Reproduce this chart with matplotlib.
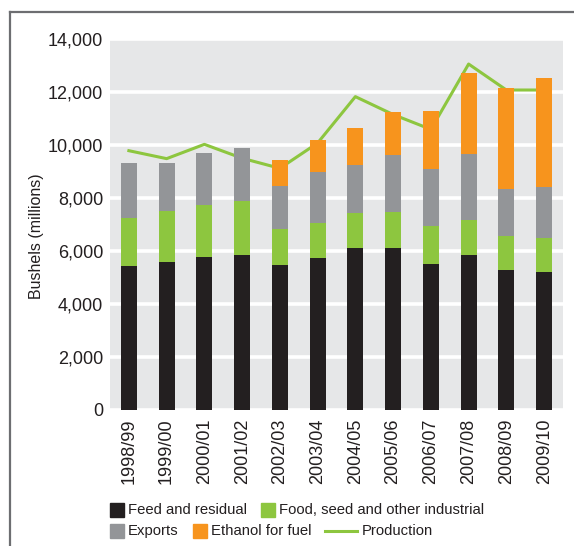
import numpy as np
import matplotlib
matplotlib.use("Agg")
import matplotlib.pyplot as plt
from matplotlib.patches import Rectangle
from matplotlib.lines import Line2D

plt.rcParams['font.family'] = ['Liberation Sans', 'DejaVu Sans']

# corn use by season, million bushels
seasons = ['1998/99', '1999/00', '2000/01', '2001/02', '2002/03', '2003/04',
           '2004/05', '2005/06', '2006/07', '2007/08', '2008/09', '2009/10']
feed = [5430, 5585, 5775, 5850, 5470, 5735, 6115, 6115, 5510, 5850, 5285, 5210]
food = [1810, 1925, 1960, 2035, 1360, 1320, 1320, 1360, 1435, 1320, 1280, 1280]
exports = [2080, 1810, 1960, 2000, 1625, 1925, 1810, 2150, 2150, 2490, 1775, 1925]
ethanol = [0, 0, 0, 0, 980, 1210, 1395, 1620, 2190, 3055, 3810, 4110]
production = [9785, 9485, 10025, 9500, 9120, 10075, 11825, 11150, 10590, 13055, 12075, 12075]

c_black = '#231f20'
c_green = '#8dc63f'
c_grey = '#939598'
c_orange = '#f7941d'
c_bg = '#e6e7e8'

W, H = 574, 546
fig = plt.figure(figsize=(W / 100, H / 100), dpi=100)
ax = fig.add_axes([110 / W, 1 - 410 / H, 453 / W, 371 / H])
ax.set_facecolor(c_bg)

x = np.arange(len(seasons))
bw = 0.42
b1 = np.array(feed)
b2 = b1 + np.array(food)
b3 = b2 + np.array(exports)

ax.plot(x, production, color=c_green, lw=2.2, zorder=2)
ax.bar(x, feed, bw, color=c_black, zorder=3)
ax.bar(x, food, bw, bottom=b1, color=c_green, zorder=3)
ax.bar(x, exports, bw, bottom=b2, color=c_grey, zorder=3)
ax.bar(x, ethanol, bw, bottom=b3, color=c_orange, zorder=3)

ax.set_xlim(-0.5, len(seasons) - 0.5)
ax.set_ylim(0, 14000)
ax.set_yticks(range(0, 14001, 2000))
ax.set_yticklabels([f'{v:,}' for v in range(0, 14001, 2000)])
ax.set_xticks(x)
ax.set_xticklabels(seasons, rotation=90)
ax.tick_params(length=0, labelsize=13, colors=c_black)
ax.tick_params(axis='y', pad=5)
ax.tick_params(axis='x', pad=6)
ax.yaxis.grid(True, color='white', lw=2.6)
ax.set_axisbelow(True)
for s in ax.spines.values():
    s.set_visible(False)

fig.text(36 / W, 1 - 236 / H, 'Bushels (millions)', rotation=90, fontsize=11.5,
         color=c_black, ha='center', va='center')

# outer frame (top and left edges only)
fig.add_artist(Line2D([9.5 / W, 9.5 / W], [0, 1 - 11.5 / H], color='#6d6e71', lw=1.6))
fig.add_artist(Line2D([9.5 / W, 1], [1 - 11.5 / H, 1 - 11.5 / H], color='#6d6e71', lw=1.6))

# legend laid out in two flowing rows
renderer = fig.canvas.get_renderer()


def legend_row(items, y):
    px = 110
    for kind, color, label in items:
        if kind == 'box':
            fig.add_artist(Rectangle((px / W, 1 - (y + 7) / H), 14 / W, 14 / H,
                                     transform=fig.transFigure, color=color))
            px += 18
        else:
            fig.add_artist(Line2D([px / W, (px + 32) / W], [1 - y / H, 1 - y / H],
                                  color=color, lw=2.2))
            px += 37
        t = fig.text(px / W, 1 - y / H, label, fontsize=10.7, color=c_black,
                     ha='left', va='center')
        px += t.get_window_extent(renderer).width + 14


legend_row([('box', c_black, 'Feed and residual'),
            ('box', c_green, 'Food, seed and other industrial')], 510)
legend_row([('box', c_grey, 'Exports'),
            ('box', c_orange, 'Ethanol for fuel'),
            ('line', c_green, 'Production')], 531)

fig.savefig('out.png', dpi=100)
